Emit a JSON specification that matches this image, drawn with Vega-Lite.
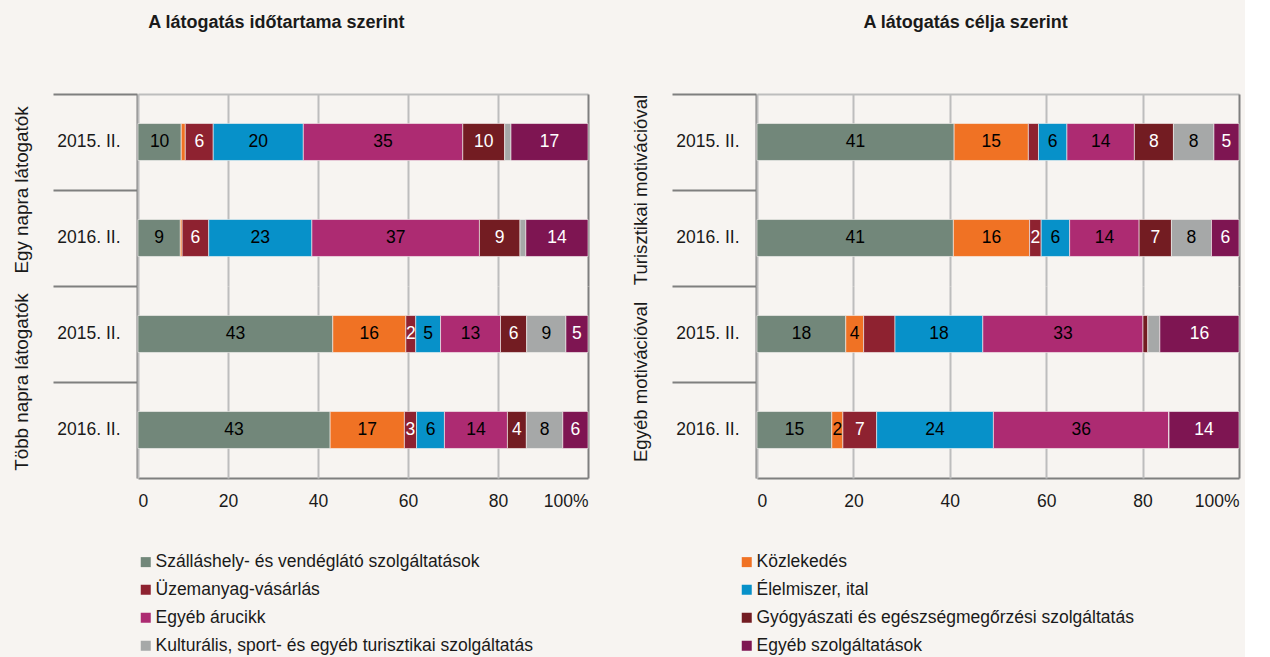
{
  "$schema": "https://vega.github.io/schema/vega-lite/v6.json",
  "background": "#F7F4F1",
  "padding": {"left": 13, "top": 14, "right": 5, "bottom": 5},
  "config": {
    "font": "Liberation Sans",
    "view": {"stroke": null},
    "axis": {"labelFont": "Liberation Sans", "labelColor": "#1a1a1a"},
    "header": {"labelFont": "Liberation Sans"},
    "legend": {"labelFont": "Liberation Sans"}
  },
  "datasets": {
    "cats": [
      {"i": 0, "c": "Szálláshely- és vendéglátó szolgáltatások"},
      {"i": 1, "c": "Közlekedés"},
      {"i": 2, "c": "Üzemanyag-vásárlás"},
      {"i": 3, "c": "Élelmiszer, ital"},
      {"i": 4, "c": "Egyéb árucikk"},
      {"i": 5, "c": "Gyógyászati és egészségmegőrzési szolgáltatás"},
      {"i": 6, "c": "Kulturális, sport- és egyéb turisztikai szolgáltatás"},
      {"i": 7, "c": "Egyéb szolgáltatások"}
    ],
    "rows": [
      {"p": "L", "g": "Egy napra látogatók", "y": "2015. II.", "i": 0, "v": 9.6, "l": "10"},
      {"p": "L", "g": "Egy napra látogatók", "y": "2015. II.", "i": 1, "v": 0.9, "l": ""},
      {"p": "L", "g": "Egy napra látogatók", "y": "2015. II.", "i": 2, "v": 6.2, "l": "6"},
      {"p": "L", "g": "Egy napra látogatók", "y": "2015. II.", "i": 3, "v": 20, "l": "20"},
      {"p": "L", "g": "Egy napra látogatók", "y": "2015. II.", "i": 4, "v": 35.4, "l": "35"},
      {"p": "L", "g": "Egy napra látogatók", "y": "2015. II.", "i": 5, "v": 9.3, "l": "10"},
      {"p": "L", "g": "Egy napra látogatók", "y": "2015. II.", "i": 6, "v": 1.4, "l": ""},
      {"p": "L", "g": "Egy napra látogatók", "y": "2015. II.", "i": 7, "v": 17.1, "l": "17"},
      {"p": "L", "g": "Egy napra látogatók", "y": "2016. II.", "i": 0, "v": 9.4, "l": "9"},
      {"p": "L", "g": "Egy napra látogatók", "y": "2016. II.", "i": 1, "v": 0.4, "l": ""},
      {"p": "L", "g": "Egy napra látogatók", "y": "2016. II.", "i": 2, "v": 5.9, "l": "6"},
      {"p": "L", "g": "Egy napra látogatók", "y": "2016. II.", "i": 3, "v": 22.9, "l": "23"},
      {"p": "L", "g": "Egy napra látogatók", "y": "2016. II.", "i": 4, "v": 37.2, "l": "37"},
      {"p": "L", "g": "Egy napra látogatók", "y": "2016. II.", "i": 5, "v": 9.0, "l": "9"},
      {"p": "L", "g": "Egy napra látogatók", "y": "2016. II.", "i": 6, "v": 1.3, "l": ""},
      {"p": "L", "g": "Egy napra látogatók", "y": "2016. II.", "i": 7, "v": 13.8, "l": "14"},
      {"p": "L", "g": "Több napra látogatók", "y": "2015. II.", "i": 0, "v": 43.2, "l": "43"},
      {"p": "L", "g": "Több napra látogatók", "y": "2015. II.", "i": 1, "v": 16.2, "l": "16"},
      {"p": "L", "g": "Több napra látogatók", "y": "2015. II.", "i": 2, "v": 2.2, "l": "2"},
      {"p": "L", "g": "Több napra látogatók", "y": "2015. II.", "i": 3, "v": 5.5, "l": "5"},
      {"p": "L", "g": "Több napra látogatók", "y": "2015. II.", "i": 4, "v": 13.3, "l": "13"},
      {"p": "L", "g": "Több napra látogatók", "y": "2015. II.", "i": 5, "v": 5.8, "l": "6"},
      {"p": "L", "g": "Több napra látogatók", "y": "2015. II.", "i": 6, "v": 8.7, "l": "9"},
      {"p": "L", "g": "Több napra látogatók", "y": "2015. II.", "i": 7, "v": 4.9, "l": "5"},
      {"p": "L", "g": "Több napra látogatók", "y": "2016. II.", "i": 0, "v": 42.7, "l": "43"},
      {"p": "L", "g": "Több napra látogatók", "y": "2016. II.", "i": 1, "v": 16.5, "l": "17"},
      {"p": "L", "g": "Több napra látogatók", "y": "2016. II.", "i": 2, "v": 2.7, "l": "3"},
      {"p": "L", "g": "Több napra látogatók", "y": "2016. II.", "i": 3, "v": 6.2, "l": "6"},
      {"p": "L", "g": "Több napra látogatók", "y": "2016. II.", "i": 4, "v": 14.0, "l": "14"},
      {"p": "L", "g": "Több napra látogatók", "y": "2016. II.", "i": 5, "v": 4.2, "l": "4"},
      {"p": "L", "g": "Több napra látogatók", "y": "2016. II.", "i": 6, "v": 8.1, "l": "8"},
      {"p": "L", "g": "Több napra látogatók", "y": "2016. II.", "i": 7, "v": 5.6, "l": "6"},
      {"p": "R", "g": "Turisztikai motivációval", "y": "2015. II.", "i": 0, "v": 40.9, "l": "41"},
      {"p": "R", "g": "Turisztikai motivációval", "y": "2015. II.", "i": 1, "v": 15.4, "l": "15"},
      {"p": "R", "g": "Turisztikai motivációval", "y": "2015. II.", "i": 2, "v": 2.1, "l": ""},
      {"p": "R", "g": "Turisztikai motivációval", "y": "2015. II.", "i": 3, "v": 5.9, "l": "6"},
      {"p": "R", "g": "Turisztikai motivációval", "y": "2015. II.", "i": 4, "v": 14.0, "l": "14"},
      {"p": "R", "g": "Turisztikai motivációval", "y": "2015. II.", "i": 5, "v": 8.1, "l": "8"},
      {"p": "R", "g": "Turisztikai motivációval", "y": "2015. II.", "i": 6, "v": 8.4, "l": "8"},
      {"p": "R", "g": "Turisztikai motivációval", "y": "2015. II.", "i": 7, "v": 5.2, "l": "5"},
      {"p": "R", "g": "Turisztikai motivációval", "y": "2016. II.", "i": 0, "v": 40.7, "l": "41"},
      {"p": "R", "g": "Turisztikai motivációval", "y": "2016. II.", "i": 1, "v": 15.8, "l": "16"},
      {"p": "R", "g": "Turisztikai motivációval", "y": "2016. II.", "i": 2, "v": 2.4, "l": "2"},
      {"p": "R", "g": "Turisztikai motivációval", "y": "2016. II.", "i": 3, "v": 5.9, "l": "6"},
      {"p": "R", "g": "Turisztikai motivációval", "y": "2016. II.", "i": 4, "v": 14.4, "l": "14"},
      {"p": "R", "g": "Turisztikai motivációval", "y": "2016. II.", "i": 5, "v": 6.7, "l": "7"},
      {"p": "R", "g": "Turisztikai motivációval", "y": "2016. II.", "i": 6, "v": 8.3, "l": "8"},
      {"p": "R", "g": "Turisztikai motivációval", "y": "2016. II.", "i": 7, "v": 5.7, "l": "6"},
      {"p": "R", "g": "Egyéb motivációval", "y": "2015. II.", "i": 0, "v": 18.4, "l": "18"},
      {"p": "R", "g": "Egyéb motivációval", "y": "2015. II.", "i": 1, "v": 3.7, "l": "4"},
      {"p": "R", "g": "Egyéb motivációval", "y": "2015. II.", "i": 2, "v": 6.5, "l": ""},
      {"p": "R", "g": "Egyéb motivációval", "y": "2015. II.", "i": 3, "v": 18.2, "l": "18"},
      {"p": "R", "g": "Egyéb motivációval", "y": "2015. II.", "i": 4, "v": 33.2, "l": "33"},
      {"p": "R", "g": "Egyéb motivációval", "y": "2015. II.", "i": 5, "v": 1.0, "l": ""},
      {"p": "R", "g": "Egyéb motivációval", "y": "2015. II.", "i": 6, "v": 2.5, "l": ""},
      {"p": "R", "g": "Egyéb motivációval", "y": "2015. II.", "i": 7, "v": 16.4, "l": "16"},
      {"p": "R", "g": "Egyéb motivációval", "y": "2016. II.", "i": 0, "v": 15.5, "l": "15"},
      {"p": "R", "g": "Egyéb motivációval", "y": "2016. II.", "i": 1, "v": 2.3, "l": "2"},
      {"p": "R", "g": "Egyéb motivációval", "y": "2016. II.", "i": 2, "v": 7.0, "l": "7"},
      {"p": "R", "g": "Egyéb motivációval", "y": "2016. II.", "i": 3, "v": 24.2, "l": "24"},
      {"p": "R", "g": "Egyéb motivációval", "y": "2016. II.", "i": 4, "v": 36.4, "l": "36"},
      {"p": "R", "g": "Egyéb motivációval", "y": "2016. II.", "i": 5, "v": 0, "l": ""},
      {"p": "R", "g": "Egyéb motivációval", "y": "2016. II.", "i": 6, "v": 0, "l": ""},
      {"p": "R", "g": "Egyéb motivációval", "y": "2016. II.", "i": 7, "v": 14.5, "l": "14"}
    ]
  },
  "spacing": 43,
  "hconcat": [
    {
      "data": {"name": "rows"},
      "transform": [
        {"filter": "datum.p == 'L'"},
        {"lookup": "i", "from": {"data": {"name": "cats"}, "key": "i", "fields": ["c"]}}
      ],
      "title": {"text": "A látogatás időtartama szerint", "fontSize": 18, "fontWeight": "bold", "color": "#1a1a1a", "anchor": "start", "dx": 135, "offset": 61},
      "facet": {
        "row": {"field": "g", "type": "nominal", "title": null,
          "header": {"labelOrient": "left", "labelAngle": -90, "labelFontSize": 18.8, "labelColor": "#1a1a1a", "labelPadding": 11}}
      },
      "spacing": 0,
      "spec": {
        "width": 450,
        "height": 192,
        "encoding": {
          "y": {"field": "y", "type": "nominal", "title": null,
            "scale": {"paddingInner": 0.615, "paddingOuter": 0.3075},
            "axis": {"bandPosition": -0.797, "tickSize": 84, "tickColor": "#7F7F7F", "tickWidth": 2, "domainColor": "#7F7F7F", "domainWidth": 2, "labelPadding": -67, "labelFontSize": 17.5, "grid": false}}
        },
        "resolve": {"axis": {"x": "independent"}},
        "layer": [
          {
            "mark": {"type": "bar", "stroke": "#F7F4F1", "strokeWidth": 0.6},
            "encoding": {
              "x": {"field": "v", "type": "quantitative", "stack": "normalize", "scale": {"domain": [0, 1]},
                "axis": {"values": [0, 0.2, 0.4, 0.6, 0.8, 1], "labelExpr": "datum.value == 1 ? '100%' : format(datum.value * 100, 'd')", "title": null, "grid": true,
                  "gridColor": {"condition": {"test": "datum.value == 1", "value": "#7F7F7F"}, "value": "#BDBDBD"}, "gridWidth": 2,
                  "domainColor": "#7F7F7F", "domainWidth": 2, "ticks": false, "labelFontSize": 17.5, "labelPadding": 14}},
              "color": {"field": "c", "type": "nominal",
                "scale": {"domain": ["Szálláshely- és vendéglátó szolgáltatások", "Üzemanyag-vásárlás", "Egyéb árucikk", "Kulturális, sport- és egyéb turisztikai szolgáltatás", "Közlekedés", "Élelmiszer, ital", "Gyógyászati és egészségmegőrzési szolgáltatás", "Egyéb szolgáltatások"],
                  "range": ["#72877A", "#8E2230", "#AD2B72", "#A6A8A8", "#F07224", "#0791C9", "#731C22", "#7E1552"]},
                "legend": {"title": null, "orient": "none", "legendX": -1, "legendY": 459, "columns": 2, "columnPadding": 205, "rowPadding": 9, "symbolType": "square", "symbolSize": 100, "symbolStrokeWidth": 0, "labelFontSize": 17.5, "labelColor": "#1a1a1a", "labelOffset": 1, "labelLimit": 600}},
              "order": {"field": "i"}
            }
          },
          {
            "mark": {"type": "text", "fontSize": 17.5},
            "encoding": {
              "x": {"field": "v", "type": "quantitative", "stack": "normalize", "bandPosition": 0.5,
                "axis": {"orient": "top", "labels": false, "ticks": false, "grid": false, "title": null, "domainColor": "#BDBDBD", "domainWidth": 2}},
              "detail": {"field": "c"},
              "order": {"field": "i"},
              "text": {"field": "l"},
              "color": {"condition": {"test": "datum.i == 2 || datum.i == 5 || datum.i == 7", "value": "white"}, "value": "black"}
            }
          }
        ]
      }
    },
    {
      "data": {"name": "rows"},
      "transform": [
        {"filter": "datum.p == 'R'"},
        {"lookup": "i", "from": {"data": {"name": "cats"}, "key": "i", "fields": ["c"]}}
      ],
      "title": {"text": "A látogatás célja szerint", "fontSize": 18, "fontWeight": "bold", "color": "#1a1a1a", "anchor": "start", "dx": 231, "offset": 61},
      "facet": {
        "row": {"field": "g", "type": "nominal", "title": null, "sort": ["Turisztikai motivációval", "Egyéb motivációval"],
          "header": {"labelOrient": "left", "labelAngle": -90, "labelFontSize": 18.6, "labelColor": "#1a1a1a", "labelPadding": 11}}
      },
      "spacing": 0,
      "spec": {
        "width": 482,
        "height": 192,
        "encoding": {
          "y": {"field": "y", "type": "nominal", "title": null,
            "scale": {"paddingInner": 0.615, "paddingOuter": 0.3075},
            "axis": {"bandPosition": -0.797, "tickSize": 84, "tickColor": "#7F7F7F", "tickWidth": 2, "domainColor": "#7F7F7F", "domainWidth": 2, "labelPadding": -67, "labelFontSize": 17.5, "grid": false}}
        },
        "resolve": {"axis": {"x": "independent"}},
        "layer": [
          {
            "mark": {"type": "bar", "stroke": "#F7F4F1", "strokeWidth": 0.6},
            "encoding": {
              "x": {"field": "v", "type": "quantitative", "stack": "normalize", "scale": {"domain": [0, 1]},
                "axis": {"values": [0, 0.2, 0.4, 0.6, 0.8, 1], "labelExpr": "datum.value == 1 ? '100%' : format(datum.value * 100, 'd')", "title": null, "grid": true,
                  "gridColor": {"condition": {"test": "datum.value == 1", "value": "#7F7F7F"}, "value": "#BDBDBD"}, "gridWidth": 2,
                  "domainColor": "#7F7F7F", "domainWidth": 2, "ticks": false, "labelFontSize": 17.5, "labelPadding": 14}},
              "color": {"field": "c", "type": "nominal"},
              "order": {"field": "i"}
            }
          },
          {
            "mark": {"type": "text", "fontSize": 17.5},
            "encoding": {
              "x": {"field": "v", "type": "quantitative", "stack": "normalize", "bandPosition": 0.5,
                "axis": {"orient": "top", "labels": false, "ticks": false, "grid": false, "title": null, "domainColor": "#BDBDBD", "domainWidth": 2}},
              "detail": {"field": "c"},
              "order": {"field": "i"},
              "text": {"field": "l"},
              "color": {"condition": {"test": "datum.i == 2 || datum.i == 5 || datum.i == 7", "value": "white"}, "value": "black"}
            }
          }
        ]
      }
    }
  ]
}
